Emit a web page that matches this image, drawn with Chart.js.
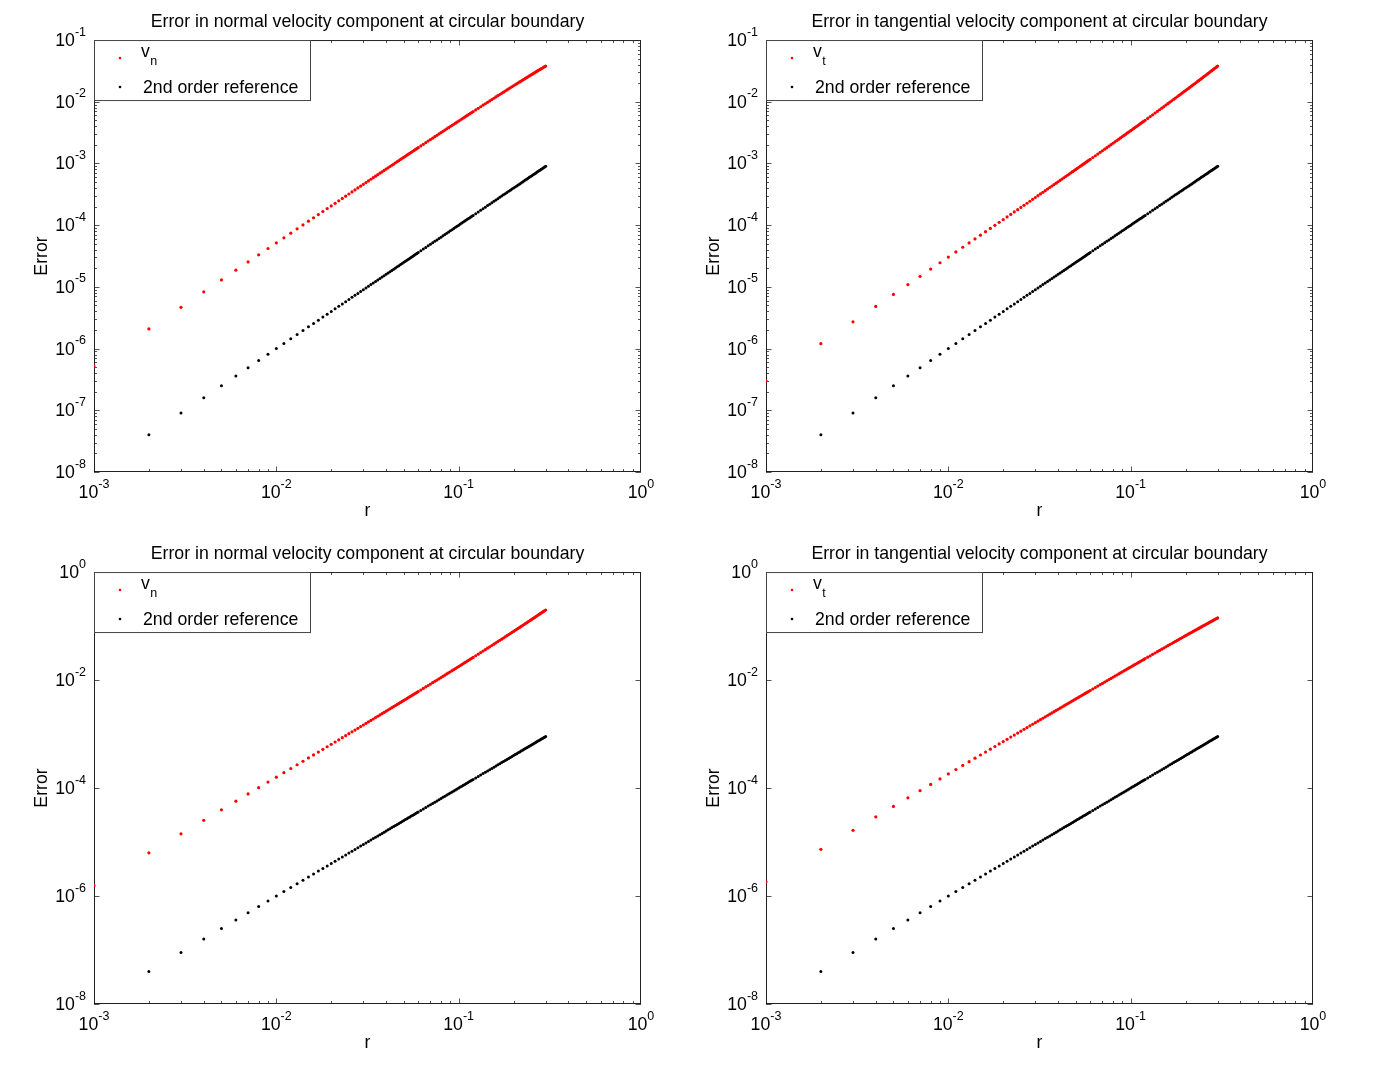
<!DOCTYPE html>
<html><head><meta charset="utf-8">
<script src="https://cdn.jsdelivr.net/npm/chart.js@4.4.1/dist/chart.umd.min.js"></script>
<style>
html,body{margin:0;padding:0;background:#fff;}
#wrap{position:relative;width:1382px;height:1065px;background:#fff;overflow:hidden;}
canvas{position:absolute;}
</style></head><body>
<div id="wrap">
<canvas id="c1" width="672" height="532" style="left:0;top:0"></canvas>
<canvas id="c2" width="672" height="532" style="left:672px;top:0"></canvas>
<canvas id="c3" width="672" height="532" style="left:0;top:532px"></canvas>
<canvas id="c4" width="672" height="532" style="left:672px;top:532px"></canvas>
</div>
<script>
// ---- data ----
const r = [0.001,0.002,0.003,0.004,0.005,0.006,0.007,0.008,0.009,0.010,
0.011,0.012,0.013,0.014,0.015,0.016,0.017,0.018,0.019,0.020,
0.021,0.022,0.023,0.024,0.025,0.026,0.027,0.028,0.029,0.030,
0.031,0.032,0.033,0.034,0.035,0.036,0.037,0.038,0.039,0.040,
0.041,0.042,0.043,0.044,0.045,0.046,0.047,0.048,0.049,0.050,
0.051,0.052,0.053,0.054,0.055,0.056,0.057,0.058,0.059,0.060,
0.062,0.064,0.066,0.068,0.070,0.072,0.074,0.076,0.078,0.080,
0.082,0.084,0.086,0.088,0.090,0.092,0.094,0.096,0.098,0.100,
0.102,0.104,0.106,0.108,0.110,0.112,0.114,0.116,0.118,0.120,
0.124,0.128,0.132,0.136,0.140,0.144,0.148,0.152,0.156,0.160,
0.164,0.168,0.172,0.176,0.180,0.184,0.188,0.192,0.196,0.200,
0.204,0.208,0.212,0.216,0.220,0.224,0.228,0.232,0.236,0.240,
0.244,0.248,0.252,0.256,0.260,0.264,0.268,0.272,0.276,0.280,
0.284,0.288,0.292,0.296,0.300];

const ref2nd = [1e-8,4e-8,9e-8,16e-8,25e-8,36e-8,49e-8,64e-8,81e-8,100e-8,
121e-8,144e-8,169e-8,196e-8,225e-8,256e-8,289e-8,324e-8,361e-8,400e-8,
441e-8,484e-8,529e-8,576e-8,625e-8,676e-8,729e-8,784e-8,841e-8,900e-8,
961e-8,1024e-8,1089e-8,1156e-8,1225e-8,1296e-8,1369e-8,1444e-8,1521e-8,1600e-8,
1681e-8,1764e-8,1849e-8,1936e-8,2025e-8,2116e-8,2209e-8,2304e-8,2401e-8,2500e-8,
2601e-8,2704e-8,2809e-8,2916e-8,3025e-8,3136e-8,3249e-8,3364e-8,3481e-8,3600e-8,
3844e-8,4096e-8,4356e-8,4624e-8,4900e-8,5184e-8,5476e-8,5776e-8,6084e-8,6400e-8,
6724e-8,7056e-8,7396e-8,7744e-8,8100e-8,8464e-8,8836e-8,9216e-8,9604e-8,10000e-8,
10404e-8,10816e-8,11236e-8,11664e-8,12100e-8,12544e-8,12996e-8,13456e-8,13924e-8,14400e-8,
15376e-8,16384e-8,17424e-8,18496e-8,19600e-8,20736e-8,21904e-8,23104e-8,24336e-8,25600e-8,
26896e-8,28224e-8,29584e-8,30976e-8,32400e-8,33856e-8,35344e-8,36864e-8,38416e-8,40000e-8,
41616e-8,43264e-8,44944e-8,46656e-8,48400e-8,50176e-8,51984e-8,53824e-8,55696e-8,57600e-8,
59536e-8,61504e-8,63504e-8,65536e-8,67600e-8,69696e-8,71824e-8,73984e-8,76176e-8,78400e-8,
80656e-8,82944e-8,85264e-8,87616e-8,90000e-8];

const vnTop = [0.52e-6,2.08e-6,4.67e-6,8.30e-6,12.96e-6,18.65e-6,25.37e-6,33.1e-6,41.9e-6,51.7e-6,
62.4e-6,74.3e-6,87.2e-6,100.9e-6,115.9e-6,131.8e-6,148.5e-6,166.5e-6,185.6e-6,205.2e-6,
226.2e-6,248.3e-6,270.8e-6,294.9e-6,320e-6,345.4e-6,372.5e-6,400.6e-6,428.9e-6,459e-6,
490.1e-6,521.2e-6,554.3e-6,588.4e-6,622.3e-6,658.4e-6,695.5e-6,732.1e-6,771.1e-6,811.2e-6,
850.6e-6,892.6e-6,935.6e-6,977.7e-6,1022.6e-6,1068.6e-6,1113.3e-6,1161.2e-6,1210.1e-6,1259e-6,
1308.3e-6,1360.1e-6,1411.5e-6,1463.8e-6,1518.6e-6,1572.7e-6,1627.7e-6,1685.4e-6,1742.2e-6,1800.7e-6,
1920.1e-6,2043.5e-6,2170.2e-6,2300.9e-6,2434.8e-6,2572.3e-6,2713.9e-6,2858.5e-6,3007.3e-6,3159e-6,
3314.3e-6,3473.7e-6,3635.9e-6,3802.3e-6,3971.4e-6,4144e-6,4320.8e-6,4500.2e-6,4683.9e-6,4870e-6,
5059.5e-6,5253.3e-6,5449.5e-6,5650e-6,5852.8e-6,6058.8e-6,6269.3e-6,6481.8e-6,6698.8e-6,6917.8e-6,
7366.6e-6,7828.3e-6,8300.8e-6,8787.4e-6,9286.5e-6,9797.8e-6,10321e-6,10854e-6,11401e-6,11960e-6,
12531e-6,13113e-6,13703e-6,14308e-6,14923e-6,15550e-6,16188e-6,16832e-6,17491e-6,18160e-6,
18840e-6,19529e-6,20225e-6,20935e-6,21654e-6,22384e-6,23123e-6,23866e-6,24623e-6,25390e-6,
26166e-6,26951e-6,27739e-6,28541e-6,29352e-6,30171e-6,30999e-6,31828e-6,32672e-6,33524e-6,
34384e-6,35251e-6,36118e-6,37000e-6,37890e-6];

const vtTop = [0.300e-6,1.203e-6,2.711e-6,4.826e-6,7.55e-6,10.89e-6,14.84e-6,19.40e-6,24.59e-6,30.4e-6,
36.83e-6,43.89e-6,51.58e-6,59.9e-6,68.85e-6,78.44e-6,88.67e-6,99.53e-6,111.04e-6,123.2e-6,
136.0e-6,149.5e-6,163.6e-6,178.3e-6,193.75e-6,209.8e-6,226.6e-6,244.0e-6,262.1e-6,280.8e-6,
300.2e-6,320.3e-6,341.1e-6,362.5e-6,384.7e-6,407.5e-6,431.0e-6,455.1e-6,480.0e-6,505.6e-6,
531.9e-6,558.8e-6,586.5e-6,614.9e-6,644.0e-6,673.7e-6,704.2e-6,735.4e-6,767.4e-6,800e-6,
833.4e-6,867.4e-6,902.3e-6,937.8e-6,974.1e-6,1011.0e-6,1048.8e-6,1087.2e-6,1126.5e-6,1166.4e-6,
1248.5e-6,1333.7e-6,1421.8e-6,1513.0e-6,1607.2e-6,1704.5e-6,1804.9e-6,1908.4e-6,2015.0e-6,2124.8e-6,
2237.7e-6,2353.9e-6,2473.2e-6,2595.8e-6,2721.6e-6,2850.7e-6,2983.0e-6,3118.7e-6,3257.7e-6,3400e-6,
3545.7e-6,3694.7e-6,3847.2e-6,4003.1e-6,4162.4e-6,4325.2e-6,4491.4e-6,4661.2e-6,4834.4e-6,5011.2e-6,
5375.4e-6,5754.1e-6,6147.2e-6,6555.0e-6,6977.6e-6,7415.2e-6,7867.9e-6,8335.9e-6,8819.4e-6,9318.4e-6,
9833.2e-6,10364e-6,10911e-6,11474e-6,12053e-6,12649e-6,13261e-6,13890e-6,14537e-6,15200e-6,
15881e-6,16579e-6,17294e-6,18028e-6,18779e-6,19549e-6,20336e-6,21142e-6,21967e-6,22810e-6,
23672e-6,24552e-6,25452e-6,26372e-6,27310e-6,28269e-6,29247e-6,30245e-6,31263e-6,32301e-6,
33359e-6,34438e-6,35538e-6,36659e-6,37800e-6];

const vnBottom = [1.572e-6,6.297e-6,14.19e-6,25.25e-6,39.51e-6,56.97e-6,77.65e-6,101.6e-6,128.7e-6,159.1e-6,
192.8e-6,229.7e-6,269.9e-6,313.5e-6,360.3e-6,410.5e-6,464.0e-6,520.9e-6,581.2e-6,644.8e-6,
711.8e-6,782.2e-6,856.1e-6,933.4e-6,1014.1e-6,1098.2e-6,1185.9e-6,1277.0e-6,1371.6e-6,1469.7e-6,
1571.3e-6,1676.5e-6,1785.2e-6,1897.5e-6,2013.3e-6,2132.7e-6,2255.7e-6,2382.3e-6,2512.5e-6,2646.4e-6,
2783.9e-6,2925.1e-6,3069.9e-6,3218.4e-6,3370.6e-6,3526.5e-6,3686.2e-6,3849.5e-6,4016.6e-6,4187.5e-6,
4362.1e-6,4540.6e-6,4722.8e-6,4908.8e-6,5098.6e-6,5292.3e-6,5489.8e-6,5691.2e-6,5896.5e-6,6105.6e-6,
6535.6e-6,6981.2e-6,7442.7e-6,7920.0e-6,8413.3e-6,8922.7e-6,9448.3e-6,9990.2e-6,10548e-6,11123e-6,
11715e-6,12323e-6,12948e-6,13589e-6,14248e-6,14924e-6,15617e-6,16327e-6,17055e-6,17800e-6,
18563e-6,19343e-6,20142e-6,20958e-6,21792e-6,22644e-6,23515e-6,24404e-6,25311e-6,26237e-6,
28144e-6,30127e-6,32186e-6,34321e-6,36534e-6,38826e-6,41197e-6,43648e-6,46180e-6,48794e-6,
51490e-6,54269e-6,57133e-6,60081e-6,63115e-6,66236e-6,69444e-6,72740e-6,76125e-6,79600e-6,
83165e-6,86822e-6,90571e-6,94413e-6,98349e-6,102379e-6,106505e-6,110727e-6,115046e-6,119462e-6,
123978e-6,128593e-6,133308e-6,138124e-6,143042e-6,148062e-6,153186e-6,158415e-6,163748e-6,169187e-6,
174733e-6,180387e-6,186148e-6,192019e-6,198000e-6];

const vtBottom = [1.829e-6,7.313e-6,16.45e-6,29.22e-6,45.64e-6,65.69e-6,89.37e-6,116.7e-6,147.6e-6,182.1e-6,
220.3e-6,262.0e-6,307.4e-6,356.3e-6,408.8e-6,464.9e-6,524.6e-6,587.8e-6,654.7e-6,725.0e-6,
798.9e-6,876.5e-6,957.5e-6,1042.0e-6,1130.2e-6,1221.8e-6,1317.0e-6,1415.6e-6,1517.8e-6,1623.5e-6,
1732.7e-6,1845.5e-6,1961.6e-6,2081.3e-6,2204.5e-6,2331.1e-6,2461.2e-6,2594.7e-6,2731.9e-6,2872.3e-6,
3016.2e-6,3163.7e-6,3314.5e-6,3468.7e-6,3626.6e-6,3787.6e-6,3952.1e-6,4120.0e-6,4291.5e-6,4466.3e-6,
4644.3e-6,4826.1e-6,5010.9e-6,5199.2e-6,5391.2e-6,5586.2e-6,5784.5e-6,5986.2e-6,6191.7e-6,6400.1e-6,
6827.3e-6,7267.5e-6,7721.4e-6,8188.2e-6,8668.6e-6,9162.2e-6,9668.4e-6,10188e-6,10721e-6,11267e-6,
11825e-6,12397e-6,12982e-6,13578e-6,14189e-6,14812e-6,15447e-6,16096e-6,16756e-6,17430e-6,
18116e-6,18814e-6,19526e-6,20249e-6,20985e-6,21734e-6,22494e-6,23267e-6,24051e-6,24849e-6,
26479e-6,28158e-6,29886e-6,31660e-6,33481e-6,35349e-6,37263e-6,39226e-6,41232e-6,43284e-6,
45382e-6,47524e-6,49713e-6,51944e-6,54218e-6,56536e-6,58897e-6,61305e-6,63751e-6,66240e-6,
68770e-6,71342e-6,73960e-6,76614e-6,79308e-6,82043e-6,84817e-6,87636e-6,90489e-6,93381e-6,
96312e-6,99280e-6,102292e-6,105336e-6,108417e-6,111535e-6,114689e-6,117886e-6,121112e-6,124374e-6,
127670e-6,131002e-6,134376e-6,137776e-6,141210e-6];

// ---- text / ticks ----
const titleNormal = 'Error in normal velocity component at circular boundary';
const titleTangential = 'Error in tangential velocity component at circular boundary';
const xAxisTitle = 'r';
const yAxisTitle = 'Error';
const legendBase = 'v';
const legendRef = '2nd order reference';
const xTickValues = [1e-3, 1e-2, 1e-1, 1];
const xTickExps = ['-3', '-2', '-1', '0'];
const yTickValuesTop = [1e-1, 1e-2, 1e-3, 1e-4, 1e-5, 1e-6, 1e-7, 1e-8];
const yTickExpsTop = ['-1', '-2', '-3', '-4', '-5', '-6', '-7', '-8'];
const yTickValuesBottom = [1, 1e-2, 1e-4, 1e-6, 1e-8];
const yTickExpsBottom = ['0', '-2', '-4', '-6', '-8'];

const FAM = '"Liberation Sans", Arial, Helvetica, sans-serif';
const BIG = 17.7, SMALL = 12.5;

const decor = {
  id: 'decor',
  beforeDatasetsDraw(chart, args, o) {
    const ctx = chart.ctx, a = chart.chartArea;
    const xs = chart.scales.x, ys = chart.scales.y;
    ctx.save();
    // inward ticks
    ctx.lineWidth = 1;
    ctx.strokeStyle = '#555';
    ctx.beginPath();
    for (let d = -3; d < 0; d++) {
      for (let m = 1; m <= 9; m++) {
        const v = m * Math.pow(10, d);
        const px = Math.round(xs.getPixelForValue(v)) + 0.5;
        const L = m === 1 ? 5.5 : 3;
        ctx.moveTo(px, a.bottom); ctx.lineTo(px, a.bottom - L);
        ctx.moveTo(px, a.top); ctx.lineTo(px, a.top + L);
      }
    }
    const ymin = ys.min, ymax = ys.max;
    if (o.minor) {
      for (let d = -8; d < 0; d++) {
        for (let m = 1; m <= 9; m++) {
          const v = m * Math.pow(10, d);
          if (v > ymax * 1.0001 || v < ymin * 0.9999) continue;
          const py = Math.round(ys.getPixelForValue(v)) + 0.5;
          const L = m === 1 ? 5.5 : 3;
          ctx.moveTo(a.left, py); ctx.lineTo(a.left + L, py);
          ctx.moveTo(a.right, py); ctx.lineTo(a.right - L, py);
        }
      }
    } else {
      o.yVals.forEach(v => {
        const py = Math.round(ys.getPixelForValue(v)) + 0.5;
        ctx.moveTo(a.left, py); ctx.lineTo(a.left + 5.5, py);
        ctx.moveTo(a.right, py); ctx.lineTo(a.right - 5.5, py);
      });
    }
    ctx.stroke();
    // frame
    ctx.strokeStyle = '#222';
    ctx.strokeRect(a.left + 0.5, a.top + 0.5, a.right - a.left - 1, a.bottom - a.top - 1);

    // tick labels
    ctx.fillStyle = '#000';
    ctx.textAlign = 'left';
    ctx.textBaseline = 'alphabetic';
    xTickValues.forEach((v, i) => {
      const px = xs.getPixelForValue(v);
      ctx.font = BIG + 'px ' + FAM;
      const w1 = ctx.measureText('10').width;
      ctx.font = SMALL + 'px ' + FAM;
      const w2 = ctx.measureText(xTickExps[i]).width;
      const x0 = px - (w1 + w2) / 2;
      ctx.font = BIG + 'px ' + FAM;
      ctx.fillText('10', x0, a.bottom + 26);
      ctx.font = SMALL + 'px ' + FAM;
      ctx.fillText(xTickExps[i], x0 + w1, a.bottom + 15.5);
    });
    o.yVals.forEach((v, i) => {
      const py = ys.getPixelForValue(v);
      ctx.font = BIG + 'px ' + FAM;
      const w1 = ctx.measureText('10').width;
      ctx.font = SMALL + 'px ' + FAM;
      const w2 = ctx.measureText(o.yExps[i]).width;
      const x0 = a.left - 8 - (w1 + w2);
      ctx.font = BIG + 'px ' + FAM;
      ctx.fillText('10', x0, py + 6);
      ctx.font = SMALL + 'px ' + FAM;
      ctx.fillText(o.yExps[i], x0 + w1, py - 4.5);
    });
    ctx.restore();
  },
  afterDatasetsDraw(chart, args, o) {
    const ctx = chart.ctx, a = chart.chartArea;
    ctx.save();
    // legend box
    const L0 = a.left, T0 = a.top, W = 217, H = 61;
    ctx.fillStyle = '#fff';
    ctx.fillRect(L0, T0, W, H);
    ctx.lineWidth = 1;
    ctx.strokeStyle = '#444';
    ctx.strokeRect(L0 + 0.5, T0 + 0.5, W - 1, H - 1);
    ctx.fillStyle = '#ff0000';
    ctx.beginPath(); ctx.arc(L0 + 26, T0 + 18, 1.3, 0, Math.PI * 2); ctx.fill();
    ctx.fillStyle = '#000000';
    ctx.beginPath(); ctx.arc(L0 + 26, T0 + 47, 1.3, 0, Math.PI * 2); ctx.fill();
    ctx.textAlign = 'left';
    ctx.textBaseline = 'alphabetic';
    ctx.font = BIG + 'px ' + FAM;
    ctx.fillText(legendBase, L0 + 47, T0 + 17);
    const wv = ctx.measureText(legendBase).width;
    ctx.fillText(legendRef, L0 + 49, T0 + 53);
    ctx.font = SMALL + 'px ' + FAM;
    ctx.fillText(o.sub, L0 + 47 + wv + 0.5, T0 + 25);
    ctx.restore();
  }
};

function makeChart(id, title, redVals, sub, yMin, yMax, yVals, yExps, minor) {
  const toPts = vals => r.map((x, i) => ({ x: x, y: vals[i] }));
  return new Chart(document.getElementById(id), {
    type: 'scatter',
    data: {
      datasets: [
        { data: toPts(redVals), backgroundColor: '#ff0000', borderWidth: 0, pointRadius: 1.6, pointHoverRadius: 1.6 },
        { data: toPts(ref2nd), backgroundColor: '#000000', borderWidth: 0, pointRadius: 1.5, pointHoverRadius: 1.5 }
      ]
    },
    options: {
      responsive: false, animation: false, devicePixelRatio: 1, events: [],
      layout: { padding: { left: 28.4, right: 31, top: 0, bottom: 0 } },
      plugins: {
        legend: { display: false }, tooltip: { enabled: false },
        title: { display: true, text: title, fullSize: false, color: '#000',
          font: { family: FAM, size: BIG, weight: 'normal' }, padding: { top: 11, bottom: 7.8 } },
        decor: { sub: sub, yVals: yVals, yExps: yExps, minor: minor }
      },
      scales: {
        x: { type: 'logarithmic', min: 1e-3, max: 1, position: 'bottom',
          grid: { display: false }, border: { display: false }, ticks: { display: false },
          title: { display: true, text: xAxisTitle, color: '#000', font: { family: FAM, size: BIG }, padding: { top: 0, bottom: 10.4 } },
          afterFit: s => { s.height = 60; } },
        y: { type: 'logarithmic', min: yMin, max: yMax, position: 'left',
          grid: { display: false }, border: { display: false }, ticks: { display: false },
          title: { display: true, text: yAxisTitle, color: '#000', font: { family: FAM, size: BIG }, padding: { top: 3.5, bottom: 0 } },
          afterFit: s => { s.width = 65.6; } }
      }
    },
    plugins: [decor]
  });
}

makeChart('c1', titleNormal, vnTop, 'n', 1e-8, 1e-1, yTickValuesTop, yTickExpsTop, true);
makeChart('c2', titleTangential, vtTop, 't', 1e-8, 1e-1, yTickValuesTop, yTickExpsTop, true);
makeChart('c3', titleNormal, vnBottom, 'n', 1e-8, 1, yTickValuesBottom, yTickExpsBottom, false);
makeChart('c4', titleTangential, vtBottom, 't', 1e-8, 1, yTickValuesBottom, yTickExpsBottom, false);
</script>
</body></html>
